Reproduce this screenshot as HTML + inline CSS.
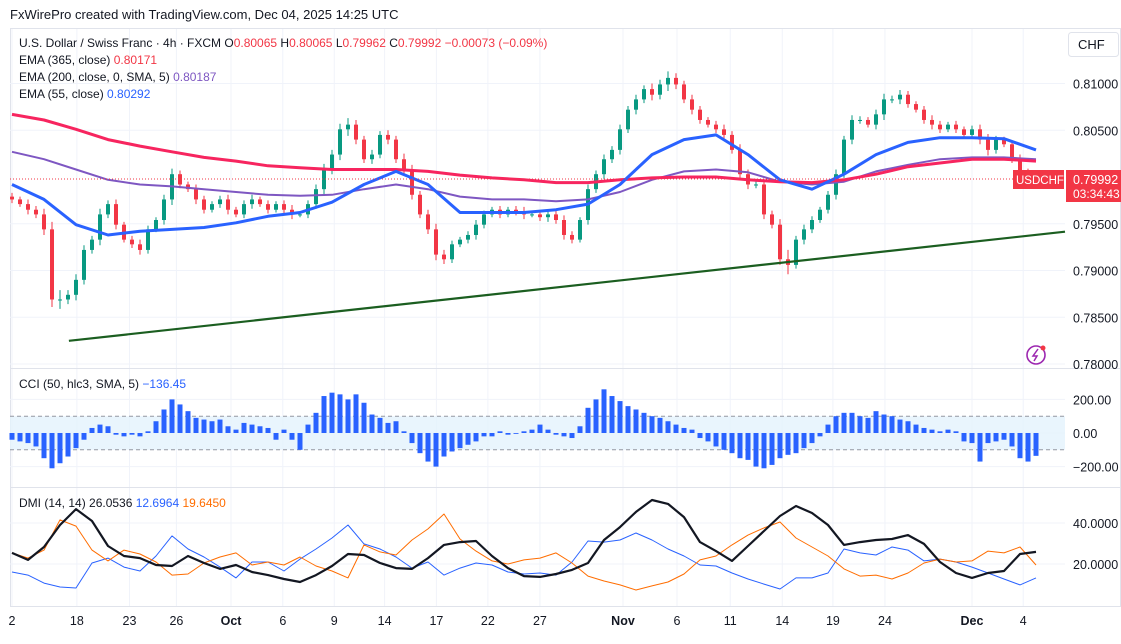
<!DOCTYPE html>
<html><head><meta charset="utf-8"><style>
body{margin:0;background:#fff;font-family:"Liberation Sans",sans-serif;}
svg text{font-family:"Liberation Sans",sans-serif;}
</style></head><body>
<svg id="c" width="1121" height="639" viewBox="0 0 1121 639" xmlns="http://www.w3.org/2000/svg">
<rect width="1121" height="639" fill="#fff"/>
<text x="10" y="19" font-size="13" fill="#131722">FxWirePro created with TradingView.com, Dec 04, 2025 14:25 UTC</text>
<rect x="10.5" y="28.5" width="1110" height="578" fill="none" stroke="#e0e3eb"/>
<g id="grid"></g>
<g id="cciBand"></g>
<g id="marks"></g>
<line x1="10" y1="368.5" x2="1121" y2="368.5" stroke="#e0e3eb"/>
<line x1="10" y1="487.5" x2="1121" y2="487.5" stroke="#e0e3eb"/>
<line x1="10" y1="606.5" x2="1121" y2="606.5" stroke="#e0e3eb"/>
<g id="axes"></g>
<g font-size="12">
<text x="19" y="47" fill="#131722">U.S. Dollar / Swiss Franc · 4h · FXCM  O<tspan fill="#f23645">0.80065</tspan>  H<tspan fill="#f23645">0.80065</tspan>  L<tspan fill="#f23645">0.79962</tspan>  C<tspan fill="#f23645">0.79992  −0.00073 (−0.09%)</tspan></text>
<text x="19" y="64" fill="#131722">EMA (365, close)  <tspan fill="#f23645">0.80171</tspan></text>
<text x="19" y="81" fill="#131722">EMA (200, close, 0, SMA, 5)  <tspan fill="#7e57c2">0.80187</tspan></text>
<text x="19" y="98" fill="#131722">EMA (55, close)  <tspan fill="#2962ff">0.80292</tspan></text>
</g>
<text x="19" y="388" font-size="12" fill="#131722">CCI (50, hlc3, SMA, 5)  <tspan fill="#2962ff">−136.45</tspan></text>
<text x="19" y="507" font-size="12" fill="#131722">DMI (14, 14)  26.0536  <tspan fill="#2962ff">12.6964</tspan>  <tspan fill="#ff6d00">19.6450</tspan></text>
<rect x="1068.5" y="32.5" width="50" height="24" rx="3" fill="#fff" stroke="#e0e3eb"/>
<text x="1078" y="49" font-size="13" fill="#131722">CHF</text>
<line x1="10" y1="179" x2="1065" y2="179" stroke="#f23645" stroke-dasharray="1,2"/>
<rect x="1013" y="170" width="51" height="19" fill="#f23645"/>
<text x="1016" y="184" font-size="11.5" fill="#fff">USDCHF</text>
<rect x="1066" y="170" width="55" height="32" fill="#f23645"/>
<text x="1073" y="184" font-size="12.5" fill="#fff">0.79992</text>
<text x="1073" y="198" font-size="12" fill="#fff">03:34:43</text>
<g><circle cx="1036" cy="355" r="9" fill="none" stroke="#9c27b0" stroke-width="1.6"/><path d="M1038 349 L1033 356 L1037 356 L1034 361" fill="none" stroke="#9c27b0" stroke-width="1.5"/><circle cx="1043" cy="348" r="2.5" fill="#f23645"/></g>
</svg>
<script>
const closes=[.7976,.7971,.7965,.7960,.7944,.7869,.7869,.7874,.7890,.7922,.7933,.7960,.7971,.7949,.7933,.7928,.7922,.7944,.7954,.7976,.8003,.7992,.7987,.7976,.7965,.7971,.7976,.7965,.7960,.7971,.7976,.7971,.7965,.7971,.7965,.7960,.7960,.7971,.7987,.8008,.8024,.8051,.8056,.8040,.8019,.8024,.8045,.8040,.8019,.8008,.7981,.7960,.7944,.7917,.7912,.7928,.7933,.7938,.7949,.7960,.7965,.7960,.7965,.7963,.7960,.7960,.7957,.7960,.7954,.7938,.7933,.7954,.7987,.8003,.8019,.8029,.8051,.8072,.8083,.8094,.8088,.8099,.8106,.8099,.8083,.8072,.8061,.8056,.8051,.8045,.8029,.8003,.7992,.7992,.7960,.7949,.7912,.7906,.7933,.7944,.7954,.7965,.7981,.8003,.8040,.8061,.8061,.8056,.8067,.8083,.8083,.8088,.8078,.8072,.8061,.8056,.8051,.8056,.8051,.8045,.8051,.8040,.8029,.8040,.8035,.8019,.8005,.7998,.7999];
const wicks=[.0004,.0003,.0005,.0004,.0006,.0008,.0010,.0005,.0006,.0005,.0004,.0006,.0004,.0005,.0003,.0004,.0005,.0004,.0003,.0005,.0006,.0004,.0003,.0005,.0004,.0003,.0004,.0005,.0003,.0004,.0005,.0003,.0004,.0003,.0004,.0005,.0003,.0004,.0005,.0006,.0005,.0006,.0007,.0005,.0004,.0005,.0004,.0005,.0004,.0006,.0005,.0004,.0005,.0006,.0005,.0004,.0003,.0004,.0005,.0004,.0003,.0004,.0003,.0004,.0005,.0003,.0004,.0005,.0004,.0005,.0004,.0003,.0005,.0004,.0005,.0004,.0005,.0004,.0005,.0004,.0006,.0005,.0007,.0005,.0004,.0005,.0004,.0003,.0004,.0005,.0004,.0006,.0005,.0004,.0005,.0004,.0006,.0010,.0004,.0005,.0004,.0003,.0004,.0005,.0004,.0005,.0004,.0003,.0005,.0006,.0004,.0005,.0004,.0003,.0004,.0005,.0004,.0003,.0004,.0003,.0004,.0005,.0006,.0004,.0003,.0004,.0005,.0004,.0003];
const ema365=[.8067,.8061,.8051,.8040,.8033,.8027,.8021,.8017,.8012,.8010,.8008,.8008,.8008,.8006,.8002,.7999,.7997,.7994,.7994,.7997,.7999,.8000,.8000,.7997,.7995,.7994,.7997,.8003,.8011,.8015,.8019,.8019,.8017];
const ema200=[.8027,.8019,.8008,.7997,.7992,.7990,.7987,.7984,.7981,.7980,.7981,.7987,.7992,.7987,.7979,.7976,.7976,.7974,.7976,.7984,.7997,.8006,.8008,.8005,.7995,.7992,.7995,.8006,.8013,.8019,.8021,.8021,.8019];
const ema55=[.7992,.7976,.7949,.7938,.7942,.7944,.7946,.7951,.7958,.7962,.7973,.7992,.8006,.7992,.7962,.7962,.7962,.7965,.7971,.7992,.8024,.8040,.8045,.8024,.7997,.7987,.8003,.8024,.8037,.8042,.8042,.8041,.8029];
const trendPrices=[.78248,.79415];
const cci=[-40,-50,-60,-80,-150,-210,-180,-140,-90,-40,30,50,40,-10,-20,-10,-20,10,70,140,200,170,130,90,80,70,80,40,20,60,50,40,30,-40,20,-40,-100,50,120,220,240,230,200,230,180,110,90,60,70,10,-60,-120,-170,-200,-140,-110,-90,-70,-50,-20,-20,10,-10,-5,10,20,50,20,-10,-20,-30,40,150,200,260,220,190,160,140,120,100,90,70,50,30,20,-30,-50,-80,-100,-120,-150,-160,-200,-210,-190,-150,-130,-120,-90,-60,-20,50,100,120,120,100,90,130,110,100,80,70,50,30,20,10,20,10,-50,-60,-170,-60,-50,-40,-80,-150,-170,-136];
const adx=[25.4,22.0,28.3,39.0,46.8,41.0,28.8,23.9,22.9,19.5,19.0,23.9,20.5,17.6,19.5,16.1,14.6,12.7,11.2,14.6,19.0,24.9,24.4,20.5,18.0,17.6,22.9,29.3,30.7,31.2,23.9,18.0,14.1,13.7,15.1,17.1,20.5,31.7,38.0,45.4,51.2,49.3,42.9,30.7,26.3,21.5,28.8,36.1,43.4,48.3,44.9,39.0,29.3,30.7,31.7,32.2,34.1,29.8,21.0,15.6,13.2,15.6,16.6,24.9,25.9];
const diPlus=[16.1,14.6,10.7,8.8,8.3,20.5,22.9,18.5,16.6,23.9,33.7,27.3,23.4,18.5,13.2,21.0,21.0,16.6,22.4,27.3,32.7,39.0,29.8,27.3,23.4,18.0,21.0,14.6,18.0,20.5,19.5,16.1,15.1,15.6,14.6,21.0,31.2,30.7,31.7,35.1,31.7,27.3,23.9,19.5,19.0,15.6,12.7,10.2,7.8,13.2,13.2,15.6,27.3,25.4,24.4,28.3,26.8,21.5,22.4,21.0,18.5,15.6,12.7,9.8,13.2];
const diMinus=[25.4,22.9,26.8,41.5,38.5,26.8,21.5,26.8,24.9,21.0,14.6,15.1,20.5,23.4,25.4,19.5,21.0,19.5,23.4,19.0,16.6,13.2,29.3,25.9,24.4,31.7,37.1,44.4,32.2,26.3,21.5,20.0,22.0,22.9,25.4,20.5,14.1,11.7,9.8,7.3,9.3,11.2,15.1,22.0,23.9,29.3,34.1,37.6,40.5,32.7,28.3,23.9,17.6,14.1,14.6,12.7,15.6,20.5,22.4,21.0,21.5,26.3,25.4,28.3,19.5];
const priceTicks=[.81,.805,.795,.79,.785,.78];
const cciTicks=[200,0,-200];
const dmiTicks=[40,20];
const dateLabels=["2","18","23","26","Oct","6","9","14","17","22","27","Nov","6","11","14","19","24","Dec","4"];
const dateBars=[0,22.8,41.3,57.8,77,95.2,113.3,131,149.2,167.3,185.6,214.8,233.8,252.5,270.8,288.6,306.9,337.5,355.5];

const NS="http://www.w3.org/2000/svg";
const X0=12,X1=1036,CH=[0.81,83.5,9350];
const py=p=>CH[1]+(CH[0]-p)*CH[2];
const cy=v=>433-v*0.168;
const dy=v=>605-v*2.05;
const bx=(i,n)=>X0+i*(X1-X0)/(n-1);
const tx=b=>X0+b*(X1-X0)/360;
function mk(tag,attrs,parent){const e=document.createElementNS(NS,tag);for(const k in attrs)e.setAttribute(k,attrs[k]);document.getElementById(parent).appendChild(e);return e;}
priceTicks.forEach(t=>{const l=mk('line',{x1:10,x2:1065,y1:py(t),y2:py(t),stroke:'#f0f3fa'},'grid');


const tt=mk('text',{x:1073,y:py(t)+5,'font-size':12.5,fill:'#131722'},'axes');tt.textContent=t.toFixed(5);

});
cciTicks.forEach(t=>{const l=mk('line',{x1:10,x2:1065,y1:cy(t),y2:cy(t),stroke:'#f0f3fa'},'grid');


const tt=mk('text',{x:1073,y:cy(t)+5,'font-size':12.5,fill:'#131722'},'axes');tt.textContent=t.toFixed(2).replace('-','−');

});
dmiTicks.forEach(t=>{const l=mk('line',{x1:10,x2:1065,y1:dy(t),y2:dy(t),stroke:'#f0f3fa'},'grid');


const tt=mk('text',{x:1073,y:dy(t)+5,'font-size':12.5,fill:'#131722'},'axes');tt.textContent=t.toFixed(4);

});
dateLabels.forEach((d,i)=>{const x=tx(dateBars[i]);
const l=mk('line',{x1:x,x2:x,y1:29,y2:606,stroke:'#f0f3fa'},'grid');


const bold=isNaN(+d);
const tt=mk('text',{x:x,y:625,'font-size':12.5,fill:'#131722','text-anchor':'middle','font-weight':bold?'bold':'normal'},'axes');tt.textContent=d;

});
const band=mk('rect',{x:10,y:cy(100),width:1055,height:cy(-100)-cy(100),fill:'#e3f2fd',opacity:0.8},'cciBand');


[100,-100].forEach(v=>{const l=mk('line',{x1:10,x2:1065,y1:cy(v),y2:cy(v),stroke:'#9598a1','stroke-dasharray':'4,3'},'cciBand');

});
const n=closes.length;
closes.forEach((c,i)=>{const o=i?closes[i-1]:c+0.0003;const x=bx(i,n);const col=c>=o?'#089981':'#f23645';
const hi=Math.max(o,c)+wicks[i],lo=Math.min(o,c)-wicks[i];
const g=mk('g',{},'marks');


const w=document.createElementNS(NS,'line');w.setAttribute('x1',x);w.setAttribute('x2',x);w.setAttribute('y1',py(hi));w.setAttribute('y2',py(lo));w.setAttribute('stroke',col);g.appendChild(w);
const r=document.createElementNS(NS,'rect');r.setAttribute('x',x-2);r.setAttribute('width',4);r.setAttribute('y',Math.min(py(o),py(c)));r.setAttribute('height',Math.max(1,Math.abs(py(o)-py(c))));r.setAttribute('fill',col);g.appendChild(r);});
function line(arr,yf,col,w,name){const pts=arr.map((v,i)=>bx(i,arr.length).toFixed(1)+','+yf(v).toFixed(1)).join(' ');
const p=mk('polyline',{points:pts,fill:'none',stroke:col,'stroke-width':w,'stroke-linejoin':'round'},'marks');

}
line(ema200,py,'#7e57c2',2,'ema-200-line');
line(ema365,py,'#f7255f',3,'ema-365-line');
line(ema55,py,'#2962ff',3,'ema-55-line');
const tl=mk('line',{x1:tx(20),y1:py(trendPrices[0]),x2:1065,y2:py(trendPrices[1]),stroke:'#1b5e20','stroke-width':2.2},'marks');


cci.forEach((v,i)=>{const x=bx(i,cci.length);const r=mk('rect',{x:x-2.5,width:5,y:Math.min(cy(0),cy(v)),height:Math.abs(cy(v)-cy(0)),fill:'#2962ff'},'marks');

});
line(diPlus,dy,'#2962ff',1,'di-plus-line');
line(diMinus,dy,'#ff6d00',1,'di-minus-line');
line(adx,dy,'#131722',2.2,'adx-line');
</script>
</body></html>
